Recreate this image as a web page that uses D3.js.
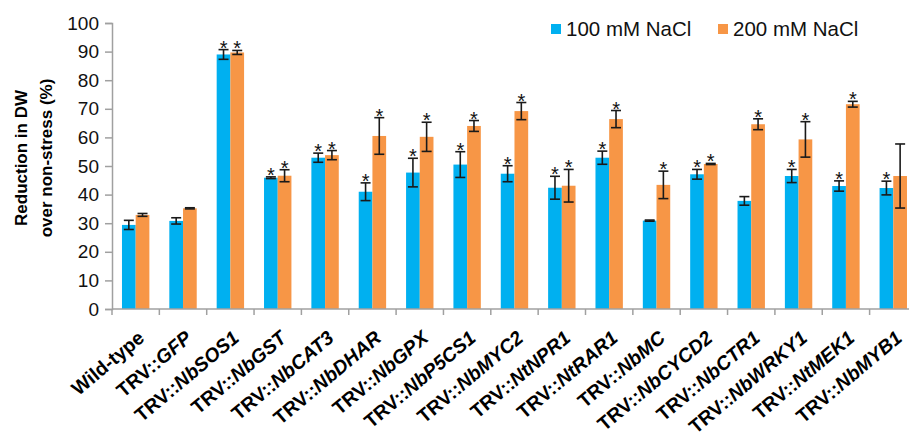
<!DOCTYPE html>
<html>
<head>
<meta charset="utf-8">
<script src="https://cdn.jsdelivr.net/npm/d3@7"></script>
<style>
  body { margin: 0; background: #fff; }
  svg { font-family: "Liberation Sans", Arial, sans-serif; }
</style>
</head>
<body>
<div id="chart"></div>
<script>
// categories: prefix (upright) + gene (italic)
const prefixes = ["Wild-type", "TRV::", "TRV::", "TRV::", "TRV::", "TRV::", "TRV::", "TRV::", "TRV::",
  "TRV::", "TRV::", "TRV::", "TRV::", "TRV::", "TRV::", "TRV::", "TRV::"];
const genes = ["", "GFP", "NbSOS1", "NbGST", "NbCAT3", "NbDHAR", "NbGPX", "NbP5CS1", "NbMYC2",
  "NtNPR1", "NtRAR1", "NbMC", "NbCYCD2", "NbCTR1", "NbWRKY1", "NtMEK1", "NbMYB1"];

const series = ["100 mM NaCl", "200 mM NaCl"];
const colors = ["#00B0F0", "#F79646"];

const values100 = [29.4, 30.8, 89.0, 45.9, 52.9, 41.0, 47.7, 50.5, 47.3, 42.4, 52.9, 30.9, 47.1, 37.8, 46.5, 43.0, 42.3];
const errors100 = [1.6, 1.1, 1.7, 0.3, 1.6, 3.1, 5.0, 4.5, 2.8, 4.0, 2.3, 0.2, 1.7, 1.5, 2.3, 1.8, 2.4];
const stars100 = [0, 0, 1, 1, 1, 1, 1, 1, 1, 1, 1, 0, 1, 0, 1, 1, 1];

const values200 = [32.9, 35.2, 89.7, 46.6, 53.8, 60.5, 60.2, 64.0, 69.2, 43.1, 66.4, 43.4, 50.7, 64.6, 59.3, 71.6, 46.5];
const errors200 = [0.5, 0.2, 0.7, 2.1, 1.6, 6.4, 5.1, 1.9, 3.0, 5.7, 3.0, 4.8, 0.2, 1.9, 6.2, 1.0, 11.2];
const stars200 = [0, 0, 1, 1, 1, 1, 1, 1, 1, 1, 1, 1, 1, 1, 1, 1, 0];

const yTicks = [0, 10, 20, 30, 40, 50, 60, 70, 80, 90, 100];

const W = 909, H = 438;
const x0 = 112, bandW = 47.35, y0 = 309, yTop = 23;

const svg = d3.select("#chart").append("svg")
  .attr("width", W).attr("height", H);

const idx = d3.range(genes.length);
const x = d3.scaleBand().domain(idx).range([x0, x0 + bandW * genes.length]);
const y = d3.scaleLinear().domain([0, 100]).range([y0, yTop]);

const barW = 13.7;
const axisColor = "#A0A0A0";

const data = [];
idx.forEach(i => {
  data.push({ i, s: 0, v: values100[i], e: errors100[i], star: stars100[i] });
  data.push({ i, s: 1, v: values200[i], e: errors200[i], star: stars200[i] });
});

const bx = d => x(d.i) + x.bandwidth() / 2 + (d.s === 0 ? -barW : 0);

// bars
svg.append("g").selectAll("rect").data(data).join("rect")
  .attr("x", bx)
  .attr("y", d => y(d.v))
  .attr("width", barW)
  .attr("height", d => y0 - y(d.v))
  .attr("fill", d => colors[d.s]);

// error bars
const eg = svg.append("g").attr("stroke", "#1a1a1a").attr("stroke-width", 1.6);
data.forEach(d => {
  const cx = bx(d) + barW / 2;
  eg.append("line").attr("x1", cx).attr("x2", cx).attr("y1", y(d.v + d.e)).attr("y2", y(d.v - d.e));
  [d.v + d.e, d.v - d.e].forEach(v => {
    eg.append("line").attr("x1", cx - 5).attr("x2", cx + 5).attr("y1", y(v)).attr("y2", y(v));
  });
});

// stars
svg.append("g").selectAll("text").data(data.filter(d => d.star)).join("text")
  .attr("x", d => bx(d) + barW / 2)
  .attr("y", d => y(d.v + d.e) + 5)
  .attr("text-anchor", "middle")
  .attr("font-size", 20)
  .attr("fill", "#111")
  .text("*");

// y axis
const yAxis = svg.append("g")
  .attr("transform", `translate(${x0},0)`)
  .call(d3.axisLeft(y).tickValues(yTicks).tickSize(7).tickPadding(6));
yAxis.select(".domain").attr("stroke", axisColor).attr("stroke-width", 1.5);
yAxis.selectAll(".tick line").attr("stroke", axisColor).attr("stroke-width", 1.5);
yAxis.selectAll(".tick text").attr("font-size", 19).attr("fill", "#111")
  .attr("font-family", "Liberation Sans, Arial, sans-serif");

// x axis
svg.append("line").attr("x1", x0).attr("x2", W + 20).attr("y1", y0).attr("y2", y0)
  .attr("stroke", axisColor).attr("stroke-width", 1.5);
svg.append("g").selectAll("line").data(d3.range(genes.length + 1)).join("line")
  .attr("x1", i => x0 + i * x.step()).attr("x2", i => x0 + i * x.step())
  .attr("y1", y0).attr("y2", y0 + 6)
  .attr("stroke", axisColor).attr("stroke-width", 1.5);

// x labels
const lbl = svg.append("g").selectAll("text").data(idx).join("text")
  .attr("transform", i => `translate(${x(i) + x.bandwidth() / 2 + 10},${y0 + 31}) rotate(-40)`)
  .attr("text-anchor", "end")
  .attr("font-size", 19.5)
  .attr("font-weight", "bold")
  .attr("fill", "#000");
lbl.append("tspan").text(i => prefixes[i]);
lbl.append("tspan").attr("font-style", "italic").text(i => genes[i]);

// y title
const yt = svg.append("text")
  .attr("transform", "translate(27,158) rotate(-90)")
  .attr("text-anchor", "middle")
  .attr("font-size", 17)
  .attr("font-weight", "bold")
  .attr("fill", "#000");
yt.append("tspan").attr("x", 0).attr("dy", 0).text("Reduction in DW");
yt.append("tspan").attr("x", 0).attr("dy", 25).text("over non-stress (%)");

// legend
const legX = [551, 718];
const lg = svg.append("g").selectAll("g").data(series).join("g")
  .attr("transform", (d, i) => `translate(${legX[i]},24)`);
lg.append("rect").attr("width", 10).attr("height", 10).attr("fill", (d, i) => colors[i]);
lg.append("text").attr("x", 15).attr("y", 12).attr("font-size", 20.5).attr("fill", "#111").text(d => d);
</script>
</body>
</html>
